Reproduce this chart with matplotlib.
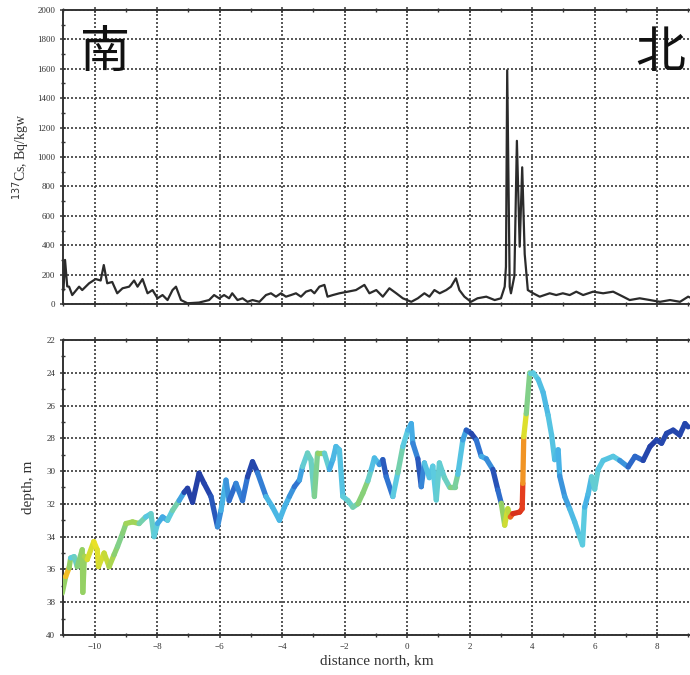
import numpy as np
import matplotlib
matplotlib.use("Agg")
import matplotlib.pyplot as plt
from matplotlib.collections import LineCollection
from matplotlib.colors import LinearSegmentedColormap
from matplotlib.ticker import MultipleLocator

# --- 137Cs activity along the transect (distance north in km, Bq/kgw) ---
cs_dist = [-11.0, -10.95, -10.88, -10.82, -10.72, -10.5, -10.4, -10.18, -9.97, -9.81,
           -9.71, -9.6, -9.44, -9.28, -9.11, -8.9, -8.74, -8.63, -8.47, -8.31,
           -8.15, -7.99, -7.83, -7.67, -7.51, -7.40, -7.24, -7.03, -6.66, -6.34,
           -6.18, -6.02, -5.86, -5.70, -5.6, -5.43, -5.27, -5.11, -4.95, -4.73,
           -4.52, -4.36, -4.2, -4.04, -3.88, -3.72, -3.56, -3.4, -3.24, -3.08,
           -2.97, -2.81, -2.65, -2.55, -2.38, -2.17, -1.90, -1.64, -1.37, -1.21,
           -0.99, -0.78, -0.57, -0.35, -0.14, 0.13, 0.34, 0.55, 0.71, 0.87,
           1.04, 1.25, 1.4, 1.56, 1.67, 1.83, 2.04, 2.25, 2.53, 2.80,
           3.0, 3.12, 3.16, 3.2, 3.28, 3.32, 3.43, 3.51, 3.6, 3.68,
           3.76, 3.86, 4.03, 4.24, 4.56, 4.77, 4.98, 5.2, 5.41, 5.63,
           5.95, 6.27, 6.59, 6.91, 7.12, 7.44, 7.77, 8.09, 8.41, 8.73, 8.99, 9.1]
cs_value = [95, 300, 120, 118, 61, 118, 95, 141, 170, 160,
            265, 141, 150, 73, 107, 118, 160, 118, 170, 73,
            95, 39, 61, 27, 95, 118, 27, 5, 10, 27,
            61, 39, 61, 39, 73, 27, 39, 15, 27, 15,
            61, 73, 50, 73, 50, 61, 73, 50, 84, 95,
            73, 118, 130, 50, 61, 73, 84, 95, 130, 73,
            95, 50, 107, 73, 39, 15, 39, 73, 50, 95,
            73, 95, 118, 175, 95, 50, 15, 39, 50, 27,
            39, 118, 254, 1590, 118, 73, 190, 1110, 390, 930,
            340, 95, 73, 50, 73, 61, 73, 61, 84, 61,
            84, 73, 84, 50, 27, 39, 27, 15, 27, 15, 50, 40]

# --- Bottom depth along the transect, with a colour level per point ---
depth_dist = [-11.04, -10.93, -10.82, -10.77, -10.66, -10.56, -10.40, -10.38, -10.33, -10.24,
              -10.03, -9.92, -9.88, -9.70, -9.54, -9.38, -9.27, -9.11, -9.0, -8.79,
              -8.58, -8.37, -8.2, -8.1, -7.99, -7.83, -7.67, -7.51, -7.30, -7.14,
              -7.03, -6.87, -6.66, -6.5, -6.28, -6.07, -5.96, -5.8, -5.70, -5.48,
              -5.27, -5.11, -4.95, -4.79, -4.52, -4.31, -4.09, -3.93, -3.77, -3.61,
              -3.45, -3.35, -3.19, -3.08, -2.97, -2.87, -2.65, -2.49, -2.38, -2.28,
              -2.17, -2.06, -1.90, -1.74, -1.58, -1.42, -1.26, -1.15, -1.05, -0.89,
              -0.78, -0.67, -0.46, -0.30, -0.14, 0.02, 0.13, 0.18, 0.34, 0.45,
              0.55, 0.71, 0.82, 0.93, 1.03, 1.19, 1.36, 1.52, 1.62, 1.78,
              1.89, 2.05, 2.21, 2.37, 2.53, 2.74, 2.90, 3.01, 3.12, 3.22,
              3.30, 3.38, 3.6, 3.68, 3.70, 3.73, 3.81, 3.92, 4.03, 4.19,
              4.35, 4.51, 4.62, 4.72, 4.83, 4.88, 5.04, 5.2, 5.36, 5.52,
              5.61, 5.68, 5.79, 5.90, 6.0, 6.11, 6.27, 6.59, 6.8, 7.07,
              7.29, 7.55, 7.77, 7.98, 8.14, 8.30, 8.51, 8.72, 8.89, 8.99]
depth_m = [37.45, 36.44, 35.9, 35.3, 35.22, 35.83, 34.8, 37.4, 35.2, 35.4,
           34.3, 34.8, 35.83, 35.0, 35.83, 35.1, 34.6, 33.8, 33.2, 33.1,
           33.2, 32.8, 32.6, 34.0, 33.2, 32.8, 33.0, 32.4, 31.8, 31.3,
           31.05, 31.9, 30.13, 30.75, 31.55, 33.4, 32.4, 30.55, 31.8, 30.75,
           31.8, 30.35, 29.43, 30.1, 31.55, 32.2, 33.0, 32.2, 31.55, 30.95,
           30.55, 29.73, 28.9, 29.3, 31.55, 28.9, 28.9, 29.9, 29.3, 28.5,
           28.7, 31.55, 31.8, 32.2, 32.0, 31.35, 30.6, 29.9, 29.2, 29.6,
           29.3, 30.35, 31.55, 30.1, 28.5, 27.5, 27.1, 28.3, 29.25, 30.95,
           29.5, 30.4, 29.7, 31.76, 29.5, 30.4, 31.0, 31.0, 30.2, 28.1,
           27.5, 27.7, 28.1, 29.1, 29.25, 29.9, 31.15, 31.96, 33.3, 32.3,
           32.8, 32.6, 32.5, 32.3, 30.75, 27.9, 26.5, 24.0, 24.0, 24.4,
           25.2, 26.6, 27.8, 29.3, 28.7, 30.3, 31.55, 32.3, 33.1, 34.0,
           34.5, 32.2, 31.4, 30.35, 31.1, 29.9, 29.35, 29.1, 29.35, 29.75,
           29.1, 29.35, 28.5, 28.1, 28.3, 27.7, 27.5, 27.8, 27.1, 27.3]
depth_level = [0.35, 0.75, 0.70, 0.40, 0.40, 0.50, 0.55, 0.55, 0.55, 0.60,
               0.68, 0.66, 0.65, 0.62, 0.60, 0.55, 0.52, 0.50, 0.55, 0.58,
               0.55, 0.40, 0.38, 0.50, 0.32, 0.30, 0.32, 0.50, 0.45, 0.15,
               0.12, 0.12, 0.12, 0.12, 0.14, 0.20, 0.33, 0.33, 0.22, 0.20,
               0.30, 0.15, 0.12, 0.15, 0.33, 0.35, 0.33, 0.35, 0.30, 0.25,
               0.20, 0.40, 0.45, 0.45, 0.45, 0.55, 0.55, 0.30, 0.33, 0.35,
               0.35, 0.40, 0.42, 0.45, 0.50, 0.55, 0.50, 0.38, 0.35, 0.35,
               0.20, 0.15, 0.30, 0.50, 0.45, 0.35, 0.33, 0.30, 0.20, 0.15,
               0.35, 0.40, 0.35, 0.45, 0.40, 0.45, 0.45, 0.58, 0.40, 0.35,
               0.25, 0.12, 0.15, 0.30, 0.33, 0.20, 0.12, 0.30, 0.80, 0.45,
               0.75, 0.90, 0.90, 0.88, 0.85, 0.70, 0.60, 0.42, 0.42, 0.38,
               0.35, 0.35, 0.40, 0.35, 0.35, 0.30, 0.25, 0.35, 0.35, 0.38,
               0.45, 0.35, 0.30, 0.40, 0.45, 0.40, 0.38, 0.38, 0.40, 0.15,
               0.25, 0.15, 0.12, 0.12, 0.15, 0.12, 0.15, 0.12, 0.15, 0.12]

x_ticks = [-10, -8, -6, -4, -2, 0, 2, 4, 6, 8]
cs_ticks = list(range(0, 2001, 200))
depth_ticks = list(range(22, 41, 2))

# Slightly muted rainbow scale for the depth trace
level_cmap = LinearSegmentedColormap.from_list("muted_rainbow", [
    (0.00, "#1a2a80"),
    (0.12, "#2440a8"),
    (0.22, "#2f72d0"),
    (0.32, "#45b0e6"),
    (0.40, "#5ccbe0"),
    (0.46, "#6ed0bc"),
    (0.54, "#8ed06a"),
    (0.61, "#c4da38"),
    (0.68, "#efe226"),
    (0.76, "#f3a425"),
    (0.86, "#e8401f"),
    (1.00, "#b01010"),
])

serif = "Liberation Serif"
grid_kw = dict(color="#3a3a3a", linestyle=(0, (1.2, 1.2)), linewidth=1.2)

fig = plt.figure(figsize=(6.9, 6.75), dpi=100)
ax1 = fig.add_axes([0.092, 0.5496, 0.908, 0.4356])
ax2 = fig.add_axes([0.092, 0.0593, 0.908, 0.437])

for ax in (ax1, ax2):
    ax.set_xlim(-11.0, 9.05)
    ax.set_xticks(x_ticks)
    ax.xaxis.set_minor_locator(MultipleLocator(1))
    ax.grid(True, which="major", **grid_kw)
    ax.set_axisbelow(True)
    ax.spines["right"].set_visible(False)
    for side in ("left", "bottom", "top"):
        ax.spines[side].set_color("#333333")
        ax.spines[side].set_linewidth(1.4)
    ax.tick_params(which="both", direction="inout", top=True, right=False,
                   color="#333333", labelsize=6.5, labelcolor="#333333")
    ax.tick_params(which="major", length=5, width=1.1)
    ax.tick_params(which="minor", length=3, width=1.0)
    for lab in ax.get_xticklabels() + ax.get_yticklabels():
        lab.set_fontfamily(serif)

# Upper panel: 137Cs activity
ax1.plot(cs_dist, cs_value, color="#2b2b2b", linewidth=1.6, zorder=3)
ax1.set_ylim(0, 2000)
ax1.set_yticks(cs_ticks)
ax1.yaxis.set_minor_locator(MultipleLocator(100))
ax1.tick_params(axis="x", labelbottom=False)
ax1.set_ylabel(r"$^{137}$Cs, Bq/kgw", fontfamily=serif, fontsize=10,
               color="#333333", labelpad=4)

# Lower panel: depth profile coloured by level
pts = np.column_stack([depth_dist, depth_m])
segs = np.stack([pts[:-1], pts[1:]], axis=1)
lev = np.asarray(depth_level)
seg_lev = 0.5 * (lev[:-1] + lev[1:])
lc = LineCollection(segs, cmap=level_cmap, norm=plt.Normalize(0, 1),
                    linewidths=3.8, capstyle="round", joinstyle="round", zorder=3)
lc.set_array(seg_lev)
ax2.add_collection(lc)
ax2.set_ylim(40, 22)
ax2.set_yticks(depth_ticks)
ax2.yaxis.set_minor_locator(MultipleLocator(1))
ax2.set_ylabel("depth, m", fontfamily=serif, fontsize=11, color="#333333", labelpad=8)
ax2.set_xlabel("distance north, km", fontfamily=serif, fontsize=11,
               color="#333333", labelpad=2)

# Direction markers
fig.text(0.152, 0.922, "南", family=["Noto Sans CJK JP", "DejaVu Sans"],
         fontsize=36, ha="center", va="center", color="#111111")
fig.text(0.957, 0.922, "北", family=["Noto Sans CJK JP", "DejaVu Sans"],
         fontsize=36, ha="center", va="center", color="#111111")

fig.savefig("out.png", dpi=100)
